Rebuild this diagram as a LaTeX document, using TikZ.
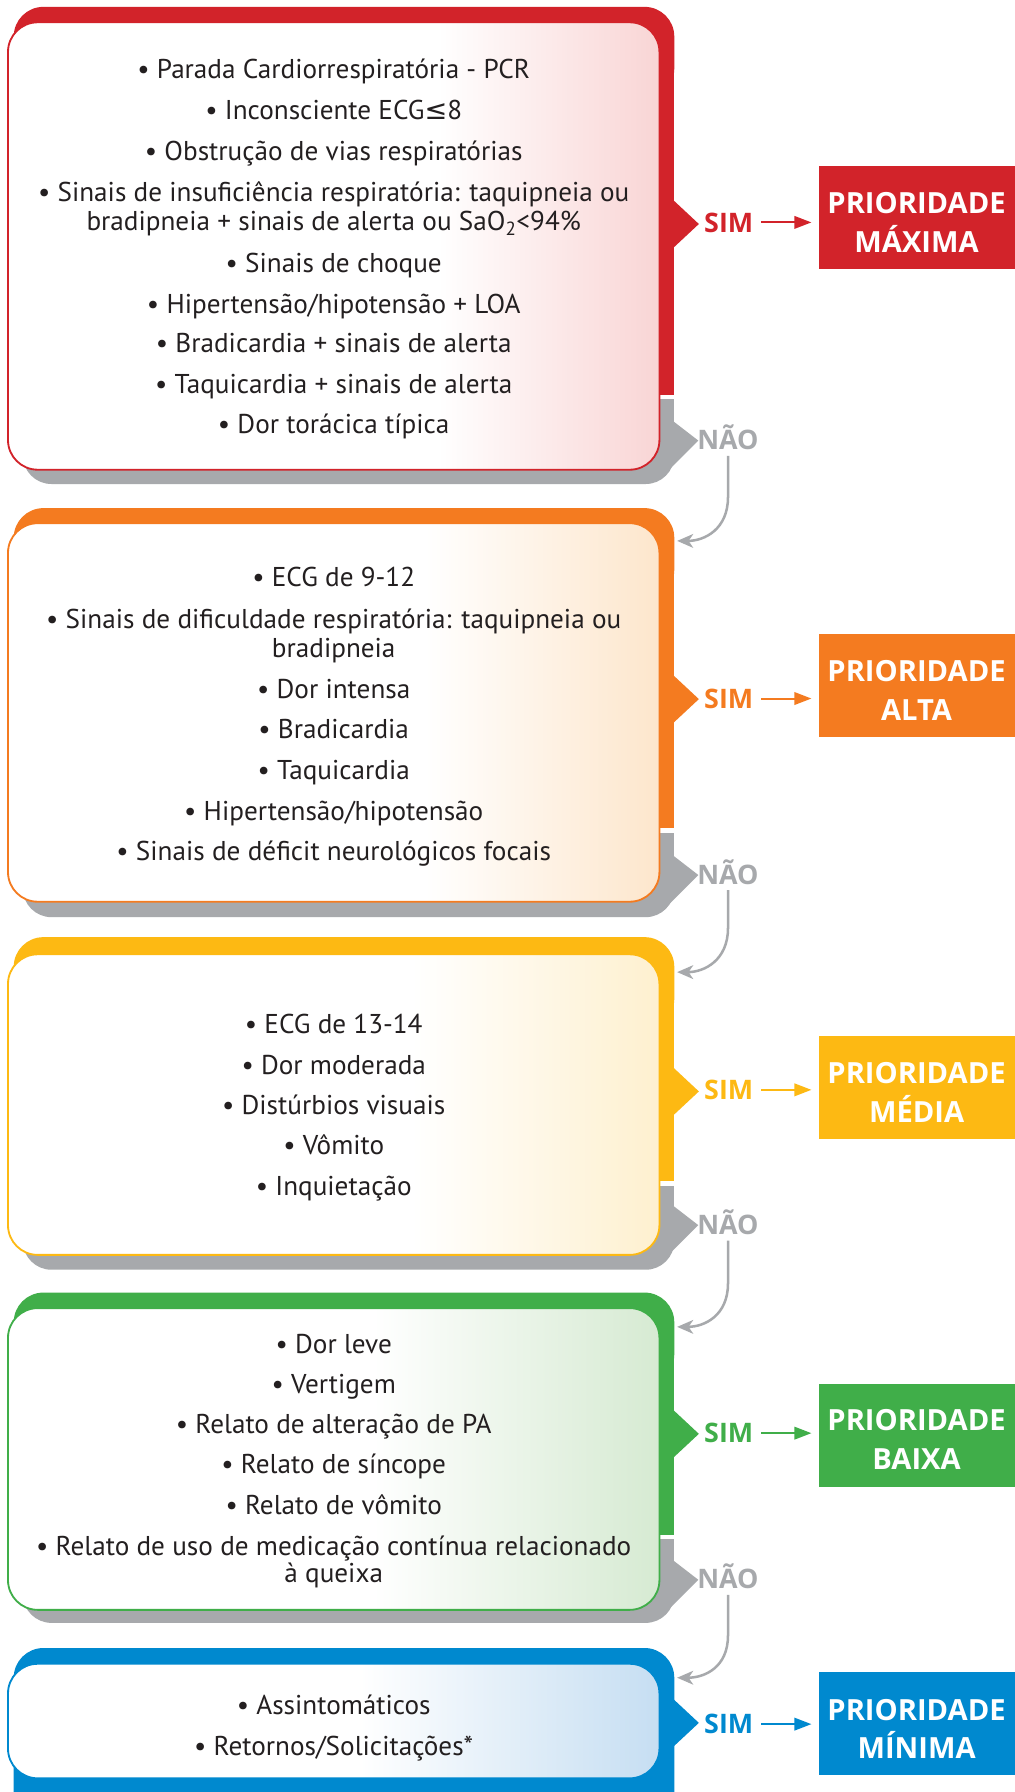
\documentclass[tikz,border=0pt]{standalone}
\usepackage{fontspec}
\setmainfont{PT Sans}
\newfontfamily\symf{DejaVu Sans}
\newfontfamily\labf{Open Sans}
\usetikzlibrary{arrows.meta}
\definecolor{cred}{HTML}{D2232A}
\definecolor{corange}{HTML}{F47B20}
\definecolor{cyellow}{HTML}{FDB913}
\definecolor{cgreen}{HTML}{40AE49}
\definecolor{cblue}{HTML}{0089CF}
\definecolor{cgrey}{HTML}{A7A9AC}
\definecolor{ctext}{HTML}{231F20}
\pgfdeclarehorizontalshading{shR}{100bp}{rgb(0bp)=(1,1,1); rgb(58bp)=(1,1,1); rgb(75bp)=(0.976,0.835,0.835); rgb(100bp)=(0.976,0.835,0.835)}
\pgfdeclarehorizontalshading{shO}{100bp}{rgb(0bp)=(1,1,1); rgb(57bp)=(1,1,1); rgb(75bp)=(0.992,0.902,0.80); rgb(100bp)=(0.992,0.902,0.80)}
\pgfdeclarehorizontalshading{shY}{100bp}{rgb(0bp)=(1,1,1); rgb(56bp)=(1,1,1); rgb(75bp)=(0.996,0.941,0.812); rgb(100bp)=(0.996,0.941,0.812)}
\pgfdeclarehorizontalshading{shG}{100bp}{rgb(0bp)=(1,1,1); rgb(53bp)=(1,1,1); rgb(75bp)=(0.839,0.918,0.824); rgb(100bp)=(0.839,0.918,0.824)}
\pgfdeclarehorizontalshading{shB}{100bp}{rgb(0bp)=(1,1,1); rgb(52bp)=(1,1,1); rgb(75bp)=(0.776,0.871,0.949); rgb(100bp)=(0.776,0.871,0.949)}
\tikzset{
  txt/.style={font=\fontsize{23.8}{28}\selectfont, text=ctext, inner sep=0pt, anchor=base},
  simlab/.style={font=\labf\fontsize{23.5}{28}\selectfont\bfseries, text=#1, inner sep=0pt, anchor=base west},
  naolab/.style={font=\labf\fontsize{23.5}{28}\selectfont\bfseries, text=cgrey, inner sep=0pt, anchor=base},
  priobox/.style={fill=#1, inner sep=0pt, anchor=north west, minimum width=171.5pt, minimum height=90pt},
  priotxt/.style={font=\labf\fontsize{25.5}{30}\selectfont\bfseries, text=white, inner sep=0pt, anchor=base},
  wbox/.style={draw=#1, line width=1.6pt, rounded corners=26pt, inner sep=0pt, minimum width=570pt},
  simarr/.style={draw=#1, line width=1.8pt, -{Triangle[length=15pt,width=11pt]}, shorten >=6.5pt},
  naoarr/.style={draw=cgrey, line width=2.2pt, -{Stealth[length=14pt,width=12pt,inset=4pt]}},
}
% color panel: #1 color, #2 top, #3 end, #4 point y
\newcommand{\cpanel}[4]{%
  \fill[#1, rounded corners=26pt] (12,#2) rectangle (590,{#2+80});
  \fill[#1] (12,{#2+40}) rectangle (590,#3);
  \fill[#1] (589,{#4-21}) -- (611.5,#4) -- (589,{#4+21}) -- cycle;}
% grey panel: #1 grey top, #2 white bottom, #3 grey bottom, #4 point y
\newcommand{\gpanel}[4]{%
  \fill[cgrey] (560,#1) rectangle (590,{#3-30});
  \fill[cgrey, rounded corners=25pt] (20,{#2-50}) rectangle (590,#3);
  \fill[cgrey] (589,{#4-17}) -- (611,#4) -- (583,{#4+28}) -- cycle;}
\begin{document}
\begin{tikzpicture}[x=1pt,y=-1pt]
\useasboundingbox (0,0) rectangle (888,1568);
\fill[white] (0,0) rectangle (888,1568);

% ---------- Box 1 (red) ----------
\cpanel{cred}{6}{345.5}{196}
\gpanel{349}{411}{423.5}{385.5}
\node[wbox=cred, shading=shR, minimum height=391.5pt] (w1) at (292,215.25) {};
\node[txt] (a1) at (292,69) {• Parada Cardiorrespiratória - PCR};
\node[txt] (a2) at (292,105) {• Inconsciente ECG{\symf ≤}8};
\node[txt] (a3) at (292,140) {• Obstrução de vias respiratórias};
\node[txt] (a4) at (292,176) {• Sinais de insuficiência respiratória: taquipneia ou};
\node[txt] (a5) at (292,202) {bradipneia + sinais de alerta ou SaO\textsubscript{2}<94\%};
\node[txt] (a6) at (292,238) {• Sinais de choque};
\node[txt] (a7) at (292,274) {• Hipertensão/hipotensão + LOA};
\node[txt] (a8) at (292,308) {• Bradicardia + sinais de alerta};
\node[txt] (a9) at (292,344) {• Taquicardia + sinais de alerta};
\node[txt] (a10) at (292,379) {• Dor torácica típica};
\node[simlab=cred] (s1) at (616,203) {SIM};
\node[priobox=cred] (p1) at (716.5,145) {};
\node[priotxt] (q1a) at (802,187) {PRIORIDADE};
\node[priotxt] (q1b) at (802,221) {MÁXIMA};
\draw[simarr=cred] ([xshift=7pt]s1.east) -- (p1.west |- s1.east);
\node[naolab] (n1) at (637,393.5) {NÃO};

% ---------- Box 2 (orange) ----------
\cpanel{corange}{444.6}{724.6}{611.7}
\gpanel{728.6}{789}{802.5}{765.6}
\node[wbox=corange, shading=shO, minimum height=331.2pt] (w2) at (292,623.4) {};
\node[txt] (b1) at (292,513) {• ECG de 9-12};
\node[txt] (b2) at (292,550) {• Sinais de dificuldade respiratória: taquipneia ou};
\node[txt] (b3) at (292,575) {bradipneia};
\node[txt] (b4) at (292,611) {• Dor intensa};
\node[txt] (b5) at (292,646) {• Bradicardia};
\node[txt] (b6) at (292,682) {• Taquicardia};
\node[txt] (b7) at (292,718) {• Hipertensão/hipotensão};
\node[txt] (b8) at (292,753) {• Sinais de déficit neurológicos focais};
\node[simlab=corange] (s2) at (616,619.6) {SIM};
\node[priobox=corange] (p2) at (716.5,554.7) {};
\node[priotxt] (q2a) at (802,596.5) {PRIORIDADE};
\node[priotxt] (q2b) at (802,630.5) {ALTA};
\draw[simarr=corange] ([xshift=7pt]s2.east) -- (p2.west |- s2.east);
\node[naolab] (n2) at (637,773.5) {NÃO};

% ---------- Box 3 (yellow) ----------
\cpanel{cyellow}{820}{1033}{955}
\gpanel{1038}{1098}{1111}{1072}
\node[wbox=cyellow, shading=shY, minimum height=263pt] (w3) at (292,966.5) {};
\node[txt] (c1) at (292,904) {• ECG de 13-14};
\node[txt] (c2) at (292,940) {• Dor moderada};
\node[txt] (c3) at (292,975) {• Distúrbios visuais};
\node[txt] (c4) at (292,1010) {• Vômito};
\node[txt] (c5) at (292,1046) {• Inquietação};
\node[simlab=cyellow] (s3) at (616,962) {SIM};
\node[priobox=cyellow] (p3) at (716.5,906.5) {};
\node[priotxt] (q3a) at (802,948) {PRIORIDADE};
\node[priotxt] (q3b) at (802,982) {MÉDIA};
\draw[simarr=cyellow] ([xshift=7pt]s3.east) -- (p3.west |- s3.east);
\node[naolab] (n3) at (637,1080) {NÃO};

% ---------- Box 4 (green) ----------
\cpanel{cgreen}{1131}{1343}{1254.6}
\gpanel{1346.6}{1408.6}{1420}{1382.3}
\node[wbox=cgreen, shading=shG, minimum height=264pt] (w4) at (292,1276.6) {};
\node[txt] (d1) at (292,1184) {• Dor leve};
\node[txt] (d2) at (292,1219) {• Vertigem};
\node[txt] (d3) at (292,1254.6) {• Relato de alteração de PA};
\node[txt] (d4) at (292,1289.6) {• Relato de síncope};
\node[txt] (d5) at (292,1325.4) {• Relato de vômito};
\node[txt] (d6) at (292,1361) {• Relato de uso de medicação contínua relacionado};
\node[txt] (d7) at (292,1385) {à queixa};
\node[simlab=cgreen] (s4) at (616,1262.4) {SIM};
\node[priobox=cgreen] (p4) at (716.5,1210.5) {};
\node[priotxt] (q4a) at (802,1252) {PRIORIDADE};
\node[priotxt] (q4b) at (802,1286) {BAIXA};
\draw[simarr=cgreen] ([xshift=7pt]s4.east) -- (p4.west |- s4.east);
\node[naolab] (n4) at (637,1390) {NÃO};

% ---------- Box 5 (blue) ----------
\fill[cblue, rounded corners=26pt] (12,1442) rectangle (590,1640);
\fill[cblue] (589,1486.5) -- (611.5,1507.5) -- (589,1528.5) -- cycle;
\node[wbox=cblue, shading=shB, minimum height=100.2pt] (w5) at (292,1505.9) {};
\node[txt] (e1) at (292,1500) {• Assintomáticos};
\node[txt] (e2) at (292,1536) {• Retornos/Solicitações*};
\node[simlab=cblue] (s5) at (616,1517) {SIM};
\node[priobox=cblue] (p5) at (716.5,1463) {};
\node[priotxt] (q5a) at (802,1505) {PRIORIDADE};
\node[priotxt] (q5b) at (802,1539) {MÍNIMA};
\draw[simarr=cblue] ([xshift=7pt]s5.east) -- (p5.west |- s5.east);

% ---------- NÃO connectors ----------
\coordinate (t1) at (592.5,473.3);
\coordinate (k1) at (637,435);
\coordinate (t2) at (592.5,850.6);
\coordinate (k2) at (637,812);
\coordinate (t3) at (592.5,1161);
\coordinate (k3) at (637,1123);
\coordinate (t4) at (592.5,1468);
\coordinate (k4) at (637,1431);
\draw[naoarr] ([yshift=-5pt]n1.south) -- (k1) .. controls +(0,28) and +(24,0) .. (t1);
\draw[naoarr] ([yshift=-5pt]n2.south) -- (k2) .. controls +(0,28) and +(24,0) .. (t2);
\draw[naoarr] ([yshift=-5pt]n3.south) -- (k3) .. controls +(0,28) and +(24,0) .. (t3);
\draw[naoarr] ([yshift=-5pt]n4.south) -- (k4) .. controls +(0,28) and +(24,0) .. (t4);
\end{tikzpicture}
\end{document}
